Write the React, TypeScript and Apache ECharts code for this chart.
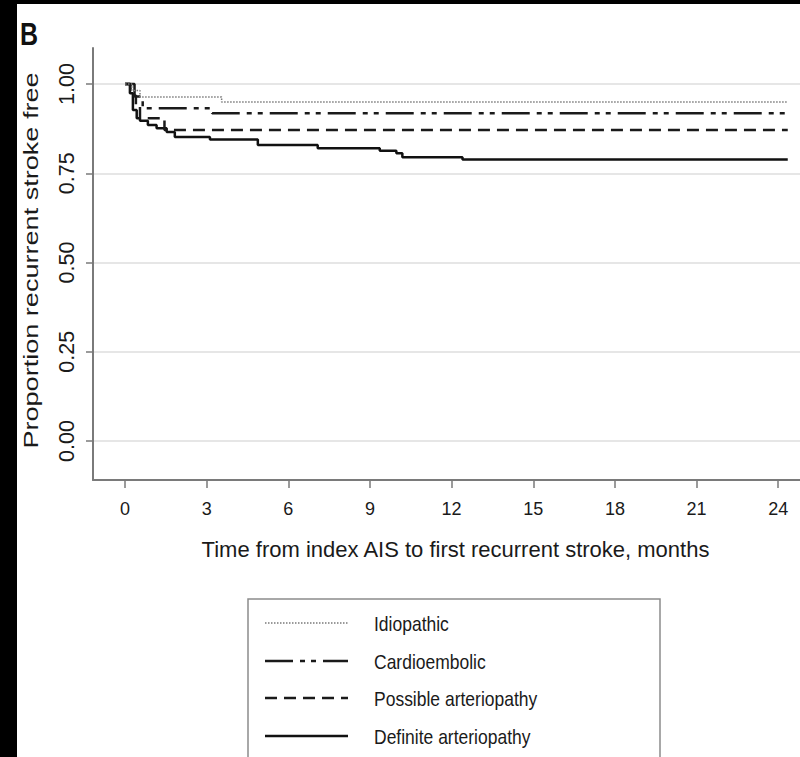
import React, { useEffect, useRef } from "react";
import * as echarts from "echarts";

// ---- data ----
const seriesNames = ["Idiopathic", "Cardioembolic", "Possible arteriopathy", "Definite arteriopathy"];

const idiopathicMonths = [0, 0.25, 0.55, 3.55, 24.35];
const idiopathicSurv = [1.0, 0.982, 0.964, 0.95, 0.95];

const cardioMonths = [0, 0.35, 0.65, 3.2, 24.35];
const cardioSurv = [1.0, 0.965, 0.932, 0.918, 0.918];

const possibleMonths = [0, 0.2, 0.4, 0.55, 1.45, 24.35];
const possibleSurv = [1.0, 0.968, 0.936, 0.904, 0.871, 0.871];

const definiteMonths = [0, 0.18, 0.29, 0.43, 0.55, 0.84, 1.16, 1.53, 1.83, 3.12, 4.88, 7.08, 9.36, 9.97, 10.19, 12.4, 24.35];
const definiteSurv = [1.0, 0.974, 0.927, 0.904, 0.897, 0.885, 0.876, 0.866, 0.852, 0.845, 0.829, 0.82, 0.813, 0.806, 0.795, 0.789, 0.789];

const xTicks = [0, 3, 6, 9, 12, 15, 18, 21, 24];
const yTicks = [0, 0.25, 0.5, 0.75, 1];
const yTickLabels = ["0.00", "0.25", "0.50", "0.75", "1.00"];

const xTitle = "Time from index AIS to first recurrent stroke, months";
const yTitle = "Proportion recurrent stroke free";
const panelLabel = "B";

const FONT = "'Liberation Sans', Arial, Helvetica, sans-serif";

const zip = (t: number[], s: number[]) => t.map((v, i) => [v, s[i]]);

const styles = [
  { color: "#7a7a7a", width: 1.5, type: [1.5, 1.5] as any },
  { color: "#1a1a1a", width: 2.5, type: [28, 7, 5, 6, 5, 7] as any },
  { color: "#1a1a1a", width: 2.5, type: [12, 7] as any },
  { color: "#111111", width: 2.5, type: "solid" as any },
];

const seriesData = [
  zip(idiopathicMonths, idiopathicSurv),
  zip(cardioMonths, cardioSurv),
  zip(possibleMonths, possibleSurv),
  zip(definiteMonths, definiteSurv),
];

export default function App() {
  const ref = useRef<HTMLDivElement>(null);

  useEffect(() => {
    document.body.style.margin = "0";
    if (!ref.current) return;
    const chart = echarts.init(ref.current, undefined, { renderer: "svg" });

    const legendRowsY = [623, 661, 698, 736];
    const legendGraphics: any[] = [];
    seriesNames.forEach((name, i) => {
      const st = styles[i];
      legendGraphics.push({
        type: "line",
        shape: { x1: 265, y1: legendRowsY[i], x2: 348, y2: legendRowsY[i] },
        style: {
          stroke: st.color,
          lineWidth: st.width,
          lineDash: Array.isArray(st.type) ? st.type : null,
        },
        silent: true,
      });
      legendGraphics.push({
        type: "text",
        x: 374,
        y: legendRowsY[i] + 1,
        scaleY: 1.12,
        style: {
          text: name,
          fontSize: 17.5,
          fontFamily: FONT,
          fill: "#1a1a1a",
          align: "left",
          verticalAlign: "middle",
          textAlign: "left",
          textVerticalAlign: "middle",
        },
        silent: true,
      });
    });

    const option: any = {
      animation: false,
      backgroundColor: "#ffffff",
      textStyle: { fontFamily: FONT },
      grid: {
        left: 93,
        right: 0,
        top: 48,
        bottom: 277,
        containLabel: false,
        outerBoundsMode: "none",
      },
      xAxis: {
        type: "value",
        min: -1.176,
        max: 24.8,
        axisLine: { show: true, onZero: false, lineStyle: { color: "#7a7a7a", width: 2 } },
        axisTick: { show: true, length: 8, customValues: xTicks, lineStyle: { color: "#7a7a7a", width: 1.5 } },
        axisLabel: {
          customValues: xTicks,
          margin: 20,
          fontSize: 18,
          color: "#1a1a1a",
          fontFamily: FONT,
        },
        splitLine: { show: false },
        name: xTitle,
        nameLocation: "middle",
        nameGap: 58,
        nameTextStyle: { fontSize: 22, color: "#1a1a1a", fontFamily: FONT, padding: [0, 0, 0, 18] },
      },
      yAxis: {
        type: "value",
        min: -0.109,
        max: 1.101,
        axisLine: { show: true, onZero: false, lineStyle: { color: "#7a7a7a", width: 2 } },
        axisTick: { show: true, length: 7, customValues: yTicks, lineStyle: { color: "#7a7a7a", width: 1.5 } },
        axisLabel: {
          customValues: yTicks,
          rotate: 90,
          margin: 15,
          fontSize: 21.5,
          color: "#1a1a1a",
          fontFamily: FONT,
          formatter: (v: number) => {
            const idx = yTicks.findIndex((t) => Math.abs(t - v) < 1e-9);
            return idx >= 0 ? yTickLabels[idx] : v.toFixed(2);
          },
        },
        splitLine: { show: true, lineStyle: { color: "#e6e6e6", width: 2 } },
      },
      series: seriesNames.map((name, i) => ({
        name,
        type: "line",
        step: "end",
        symbol: "none",
        showSymbol: false,
        silent: true,
        lineStyle: { color: styles[i].color, width: styles[i].width, type: styles[i].type },
        data: seriesData[i],
        z: 10 - i,
      })),
      graphic: [
        { type: "rect", shape: { x: 0, y: 0, width: 17, height: 757 }, style: { fill: "#000" }, silent: true },
        { type: "rect", shape: { x: 0, y: 0, width: 800, height: 4 }, style: { fill: "#000" }, silent: true },
        {
          type: "text",
          x: 20,
          y: 33.5,
          scaleY: 1.25,
          style: {
            text: panelLabel,
            fontSize: 25,
            fontWeight: "bold",
            fontFamily: FONT,
            fill: "#111",
            align: "left",
            verticalAlign: "middle",
            textAlign: "left",
            textVerticalAlign: "middle",
          },
          silent: true,
        },
        {
          type: "text",
          x: 30.6,
          y: 260.5,
          rotation: Math.PI / 2,
          scaleX: 1.29,
          style: {
            text: yTitle,
            fontSize: 21,
            fontFamily: FONT,
            fill: "#1a1a1a",
            align: "center",
            verticalAlign: "middle",
            textAlign: "center",
            textVerticalAlign: "middle",
          },
          silent: true,
        },
        {
          type: "rect",
          shape: { x: 248, y: 599, width: 412, height: 200 },
          style: { fill: "none", stroke: "#8c8c8c", lineWidth: 1.5 },
          silent: true,
        },
        ...legendGraphics,
      ],
    };

    chart.setOption(option);
    return () => chart.dispose();
  }, []);

  return <div ref={ref} style={{ width: 800, height: 757 }} />;
}
